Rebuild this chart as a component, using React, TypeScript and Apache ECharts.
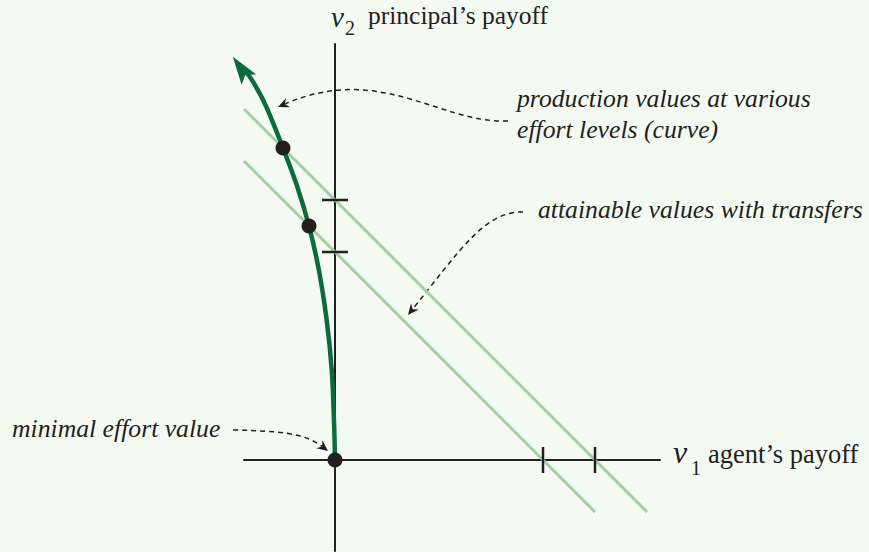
import React, { useEffect, useRef } from "react";
import * as echarts from "echarts";

// ---- data (in payoff units) ----
const curveV1 = [0, -0.02, -0.063, -0.16, -0.31, -0.5, -0.73, -1.0, -1.19, -1.38, -1.6, -1.7];
const curveV2 = [0, 0.77, 1.73, 2.69, 3.65, 4.5, 5.27, 6.0, 6.48, 6.92, 7.31, 7.45];
const arrowTip = [-1.81, 7.535];
const dotV1 = [0, -0.5, -1];
const dotV2 = [0, 4.5, 6];
const transferLevels = [4, 5];
const tickValues = [4, 5];

const INK = "#231f20";
const GREEN = "#0b6b3a";
const LIGHT = "#a3cfa3";
const SERIF = "Liberation Serif";

function arrowHead(tx: number, ty: number, dx: number, dy: number) {
  const n = Math.hypot(dx, dy);
  const ux = dx / n, uy = dy / n;
  const L = 11, W = 5, notch = 3.5;
  const bx = tx - L * ux, by = ty - L * uy;
  const px = -uy, py = ux;
  return {
    type: "polygon",
    shape: {
      points: [
        [tx, ty],
        [bx + W * px, by + W * py],
        [tx - (L - notch) * ux, ty - (L - notch) * uy],
        [bx - W * px, by - W * py],
      ],
    },
    style: { fill: INK },
    silent: true,
  };
}

function dashed(p0: number[], p1: number[], p2: number[], tip: number[]) {
  const dx = tip[0] - p2[0], dy = tip[1] - p2[1];
  const n = Math.hypot(dx, dy);
  const ex = tip[0] - (6 * dx) / n, ey = tip[1] - (6 * dy) / n;
  return [
    {
      type: "bezierCurve",
      shape: { x1: p0[0], y1: p0[1], cpx1: p1[0], cpy1: p1[1], cpx2: p2[0], cpy2: p2[1], x2: ex, y2: ey },
      style: { stroke: INK, lineWidth: 1.5, lineDash: [5, 4], fill: null },
      silent: true,
    },
    arrowHead(tip[0], tip[1], dx, dy),
  ];
}

function txt(text: string, x: number, baseline: number, size: number, italic: boolean, lineHeight?: number) {
  const y = baseline - 0.34 * size;
  return {
    type: "text",
    silent: true,
    style: {
      text,
      x,
      y,
      fontFamily: SERIF,
      fontSize: size,
      fontStyle: italic ? "italic" : "normal",
      lineHeight: lineHeight || Math.round(size * 1.15),
      fill: INK,
      align: "left",
      verticalAlign: "middle",
      textAlign: "left",
      textVerticalAlign: "middle",
    },
  };
}

export default function App() {
  const ref = useRef<HTMLDivElement>(null);
  useEffect(() => {
    if (!ref.current) return;
    const chart = echarts.init(ref.current, undefined, { renderer: "svg" });

    const transferSeries = transferLevels.map((L) => ({
      type: "line",
      data: [
        [-1.75, L + 1.75],
        [L + 1, -1],
      ],
      symbol: "none",
      lineStyle: { color: LIGHT, width: 3 },
      z: 1,
      silent: true,
    }));
    const xTicks = tickValues.map((t) => ({
      type: "line",
      data: [
        [t, -0.25],
        [t, 0.25],
      ],
      symbol: "none",
      lineStyle: { color: INK, width: 2.5 },
      z: 2,
      silent: true,
    }));
    const yTicks = tickValues.map((t) => ({
      type: "line",
      data: [
        [-0.25, t],
        [0.25, t],
      ],
      symbol: "none",
      lineStyle: { color: INK, width: 2.5 },
      z: 2,
      silent: true,
    }));

    const axisCommon = {
      type: "value",
      axisLine: { show: true, onZero: true, lineStyle: { color: INK, width: 2 } },
      axisTick: { show: false },
      axisLabel: { show: false },
      splitLine: { show: false },
    };

    chart.setOption({
      animation: false,
      backgroundColor: "#f4f9f2",
      grid: { left: 244, top: 44, width: 416, height: 507 },
      xAxis: { ...axisCommon, min: -1.75, max: 6.25 },
      yAxis: { ...axisCommon, min: -1.75, max: 8 },
      series: [
        ...transferSeries,
        ...xTicks,
        ...yTicks,
        {
          type: "line",
          data: curveV1.map((v, i) => [v, curveV2[i]]),
          smooth: 0.4,
          symbol: "none",
          lineStyle: { color: GREEN, width: 4.5 },
          z: 3,
          clip: false,
          silent: true,
        },
        {
          type: "scatter",
          data: [arrowTip],
          symbol: "path://M0,0 L9,28 L0,22 L-9,28 Z",
          symbolSize: [18, 28],
          symbolRotate: 35,
          itemStyle: { color: GREEN, opacity: 1 },
          clip: false,
          z: 4,
          silent: true,
        },
        {
          type: "scatter",
          data: dotV1.map((v, i) => [v, dotV2[i]]),
          symbol: "circle",
          symbolSize: 15,
          itemStyle: { color: INK, opacity: 1 },
          clip: false,
          z: 5,
          silent: true,
        },
      ],
      graphic: [
        txt("v", 331, 27, 29, true, 20),
        txt("2", 345, 35, 20, false),
        txt("principal\u2019s payoff", 368, 24, 25.5, false),
        txt("v", 673, 463, 32, true, 22),
        txt("1", 691, 475, 20, false),
        txt("agent\u2019s payoff", 708, 463, 26.5, false),
        txt("production values at various", 517, 107, 25.7, true),
        txt("effort levels (curve)", 517, 138, 25.7, true),
        txt("attainable values with transfers", 538, 218, 25.7, true),
        txt("minimal effort value", 12, 437, 25.7, true),
        ...dashed([508, 121], [440, 124], [380, 62], [278, 107]),
        ...dashed([523, 212], [485, 211], [460, 250], [408, 315]),
        ...dashed([233, 430], [280, 431], [305, 433], [328, 451]),
      ],
    });
    return () => chart.dispose();
  }, []);
  return <div ref={ref} style={{ position: "fixed", left: 0, top: 0, width: 869, height: 552 }} />;
}
